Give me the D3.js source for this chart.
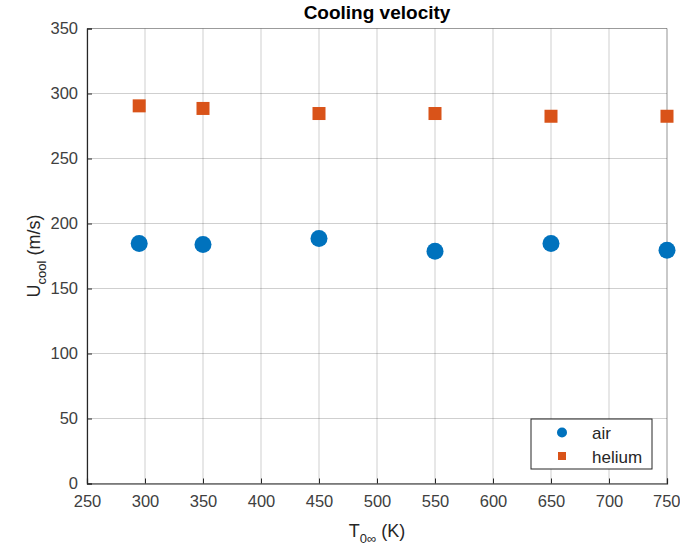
<!DOCTYPE html>
<html>
<head>
<meta charset="utf-8">
<script src="https://cdn.jsdelivr.net/npm/d3@7"></script>
<style>
  body { margin: 0; background: #fff; }
  text { font-family: "Liberation Sans", Arial, sans-serif; fill: #262626; }
</style>
</head>
<body>
<div id="chart"></div>
<script>
// data
var temps = [295, 350, 450, 550, 650, 750];
var airVals = [184.6, 183.8, 188.5, 178.7, 184.6, 179.5];
var heliumVals = [290.5, 288.5, 284.6, 284.6, 282.5, 282.5];
var xTicks = [250, 300, 350, 400, 450, 500, 550, 600, 650, 700, 750];
var yTicks = [0, 50, 100, 150, 200, 250, 300, 350];

var margin = {top: 28.5, right: 13, bottom: 66.5, left: 87},
    width = 680 - margin.left - margin.right,
    height = 550 - margin.top - margin.bottom;

var blue = "#0072bd", orange = "#d95319";

var svg = d3.select("#chart").append("svg")
    .attr("width", 680)
    .attr("height", 550);

var g = svg.append("g")
    .attr("transform", "translate(" + margin.left + "," + margin.top + ")");

var x = d3.scaleLinear().domain([250, 750]).range([0, width]);
var y = d3.scaleLinear().domain([0, 350]).range([height, 0]);

// grid
g.append("g")
  .selectAll("line").data(xTicks).enter().append("line")
    .attr("x1", function(d) { return x(d); })
    .attr("x2", function(d) { return x(d); })
    .attr("y1", 0).attr("y2", height)
    .attr("stroke", "#262626").attr("stroke-opacity", 0.22);
g.append("g")
  .selectAll("line").data(yTicks).enter().append("line")
    .attr("y1", function(d) { return y(d); })
    .attr("y2", function(d) { return y(d); })
    .attr("x1", 0).attr("x2", width)
    .attr("stroke", "#262626").attr("stroke-opacity", 0.22);

// axes
var xAxis = d3.axisBottom(x).tickValues(xTicks).tickSize(-5).tickPadding(9);
var yAxis = d3.axisLeft(y).tickValues(yTicks).tickSize(-5).tickPadding(9);

var gx = g.append("g")
    .attr("transform", "translate(0," + height + ")")
    .call(xAxis);
var gy = g.append("g").call(yAxis);

[gx, gy].forEach(function(a) {
  a.select(".domain").attr("stroke", "#262626").attr("stroke-width", 1.2);
  a.selectAll(".tick line").attr("stroke", "#262626");
  a.selectAll(".tick text").attr("font-size", 16.5).style("fill", "#404040");
});
gx.selectAll(".tick text").attr("dy", "0.85em");
// keep the last x label inside the window
gx.selectAll(".tick text").filter(function(d) { return d === 750; })
    .attr("text-anchor", "end").attr("dx", 13);

// top / right box edges
g.append("line").attr("x1", 0).attr("x2", width).attr("y1", 0).attr("y2", 0)
  .attr("stroke", "#262626").attr("stroke-opacity", 0.3);
g.append("line").attr("x1", width).attr("x2", width).attr("y1", 0).attr("y2", height)
  .attr("stroke", "#262626").attr("stroke-opacity", 0.3);

// points
g.append("g").selectAll("circle").data(airVals).enter().append("circle")
    .attr("cx", function(d, i) { return x(temps[i]); })
    .attr("cy", function(d) { return y(d); })
    .attr("r", 8.5)
    .attr("fill", blue);

var sq = 13;
g.append("g").selectAll("rect").data(heliumVals).enter().append("rect")
    .attr("x", function(d, i) { return x(temps[i]) - sq / 2; })
    .attr("y", function(d) { return y(d) - sq / 2; })
    .attr("width", sq).attr("height", sq)
    .attr("fill", orange);

// title
svg.append("text")
    .attr("x", margin.left + width / 2)
    .attr("y", 19)
    .attr("text-anchor", "middle")
    .attr("font-size", 19)
    .attr("font-weight", "bold")
    .style("fill", "#000")
    .text("Cooling velocity");

// x label
var xl = svg.append("text")
    .attr("x", margin.left + width / 2)
    .attr("y", 537)
    .attr("text-anchor", "middle")
    .attr("font-size", 18)
    .style("fill", "#262626");
xl.append("tspan").text("T");
xl.append("tspan").attr("font-size", 13).attr("dy", 6).text("0\u221e");
xl.append("tspan").attr("dy", -6).text(" (K)");

// y label
var yl = svg.append("text")
    .attr("transform", "translate(40," + (margin.top + height / 2) + ") rotate(-90)")
    .attr("text-anchor", "middle")
    .attr("font-size", 18)
    .style("fill", "#262626");
yl.append("tspan").text("U");
yl.append("tspan").attr("font-size", 13).attr("dy", 6).text("cool");
yl.append("tspan").attr("dy", -6).text(" (m/s)");

// legend
var leg = svg.append("g").attr("transform", "translate(531,419)");
leg.append("rect").attr("width", 121).attr("height", 50)
  .attr("fill", "#fff").attr("stroke", "#262626").attr("stroke-width", 1);
leg.append("circle").attr("cx", 31).attr("cy", 13.5).attr("r", 5).attr("fill", blue);
leg.append("rect").attr("x", 27).attr("y", 33).attr("width", 8).attr("height", 8).attr("fill", orange);
leg.append("text").attr("x", 61).attr("y", 19.5).attr("font-size", 17).text("air");
leg.append("text").attr("x", 61).attr("y", 43.5).attr("font-size", 17).text("helium");
</script>
</body>
</html>
